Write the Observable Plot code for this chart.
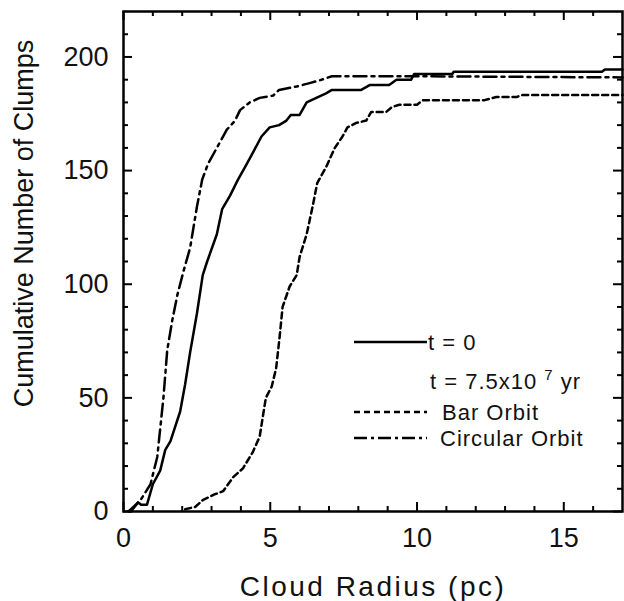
<!DOCTYPE html>
<html><head><meta charset="utf-8">
<script src="https://cdn.jsdelivr.net/npm/d3@7"></script>
<script src="https://cdn.jsdelivr.net/npm/@observablehq/plot@0.6"></script>
<style>
body{margin:0;background:#fff;}
#wrap{position:relative;width:624px;height:601px;}
#wrap svg{position:absolute;left:0;top:0;}
</style></head><body><div id="wrap"></div>
<script>
// t = 0 (solid)
const t0X = [0.25,0.5,0.6,0.8,1.0,1.25,1.42,1.6,1.93,2.1,2.27,2.5,2.7,2.85,3.18,3.36,3.63,3.9,4.14,4.4,4.7,4.98,5.3,5.55,5.7,6.0,6.24,6.57,6.9,7.1,8.1,8.4,9.05,9.3,9.8,9.9,11.2,11.25,16.3,16.4,17];
const t0Y = [0,4,3,3,12,18,27,31,44,56,70,87,104,110,122,133,139,146,151.5,157.7,165,169,170,172,174.5,174.5,180,182,184,185.5,185.5,187.7,187.7,190,190,192.5,192.5,193.5,193.5,194.5,194.5];
// t = 7.5e7 yr, bar orbit (dotted)
const barX = [2.1,2.44,2.7,3.1,3.4,3.73,4.07,4.4,4.64,4.75,4.85,5.05,5.2,5.32,5.42,5.66,5.9,6.0,6.24,6.44,6.6,6.9,7.2,7.46,7.63,7.93,8.27,8.44,8.95,9.15,9.4,10.0,10.2,12.3,12.7,13.4,13.6,17];
const barY = [1,2,5,7.5,9,15,19,26,33,42,50,55,63,77,90,99,104,112,122,134,144.5,151.5,160,165,169,171,172,175.8,175.8,178,179,179,181,181,182.4,182.4,183.3,183.3];
// t = 7.5e7 yr, circular orbit (dash-dot)
const circX = [0.17,0.58,0.92,1.15,1.36,1.49,1.66,1.83,2.05,2.27,2.5,2.68,2.88,3.18,3.52,3.8,3.97,4.3,4.64,5.1,5.3,5.9,6.34,6.75,7.1,10.0,17];
const circY = [0,5,12,24,50,71,84,95,106,116,134,146,153,160,168,172,176.6,180,182,183,185.5,187,188.5,190,191.5,191.5,191];

const xMajor = [0,5,10,15];
const xMinor = [1,2,3,4,6,7,8,9,11,12,13,14,16];
const yMajor = [0,50,100,150,200];
const yMinor = [10,20,30,40,60,70,80,90,110,120,130,140,160,170,180,190,210];
const xTitle = "Cloud Radius (pc)";
const yTitle = "Cumulative Number of Clumps";
const legendLabels = ["t = 0", "Bar Orbit", "Circular Orbit"];

const W = 624, H = 601, mL = 123, mR = 2, mT = 11, mB = 90;
const pw = W - mL - mR, ph = H - mT - mB;
const font = "'Liberation Sans', Arial, Helvetica, sans-serif";
const toRows = (xs, ys) => xs.map((x, i) => ({x, y: ys[i]}));

const majL = 9, minL = 5;
const chart = Plot.plot({
  width: W, height: H,
  marginLeft: mL, marginRight: mR, marginTop: mT, marginBottom: mB,
  x: {domain: [0, 17]},
  y: {domain: [0, 220]},
  style: {fontFamily: font, color: "#111", background: "#fff"},
  marks: [
    Plot.axisX(xMajor, {tickSize: 0, tickPadding: 16, fontSize: 27, label: null}),
    Plot.axisY(yMajor, {tickSize: 0, tickPadding: 15, fontSize: 27, label: null}),
    // inward ticks on all four sides
    Plot.tickX(xMajor, {x: d => d, insetTop: ph - majL, stroke: "#000", strokeWidth: 2}),
    Plot.tickX(xMinor, {x: d => d, insetTop: ph - minL, stroke: "#000", strokeWidth: 2}),
    Plot.tickX(xMajor, {x: d => d, insetBottom: ph - majL, stroke: "#000", strokeWidth: 2}),
    Plot.tickX(xMinor, {x: d => d, insetBottom: ph - minL, stroke: "#000", strokeWidth: 2}),
    Plot.tickY(yMajor, {y: d => d, insetRight: pw - majL, stroke: "#000", strokeWidth: 2}),
    Plot.tickY(yMinor, {y: d => d, insetRight: pw - minL, stroke: "#000", strokeWidth: 2}),
    Plot.tickY(yMajor, {y: d => d, insetLeft: pw - majL, stroke: "#000", strokeWidth: 2}),
    Plot.tickY(yMinor, {y: d => d, insetLeft: pw - minL, stroke: "#000", strokeWidth: 2}),
    Plot.line(toRows(t0X, t0Y), {x: "x", y: "y", stroke: "#000", strokeWidth: 2.5}),
    Plot.line(toRows(barX, barY), {x: "x", y: "y", stroke: "#000", strokeWidth: 2.5, strokeDasharray: "6,4"}),
    Plot.line(toRows(circX, circY), {x: "x", y: "y", stroke: "#000", strokeWidth: 2.5, strokeDasharray: "13,5,3,5"}),
    Plot.frame({stroke: "#000", strokeWidth: 2.5}),
    Plot.text([xTitle], {frameAnchor: "bottom", textAnchor: "middle", lineAnchor: "middle", dy: 76, fontSize: 28, fill: "#111"}),
    Plot.text([yTitle], {frameAnchor: "left", textAnchor: "middle", lineAnchor: "middle", rotate: -90, dx: -99, dy: -38, fontSize: 27, fill: "#111"})
  ]
});
const wrap = document.getElementById("wrap");
wrap.appendChild(chart);
chart.querySelectorAll("text").forEach(t => {
  if (t.textContent === xTitle) t.setAttribute("letter-spacing", "2.5");
});

// in-plot legend overlay
const lg = d3.select(wrap).append("svg").attr("width", W).attr("height", H)
  .style("pointer-events", "none").attr("font-family", font).attr("font-size", 22)
  .attr("fill", "#111").attr("letter-spacing", 1);
const item = (y, dash, label, tx) => {
  lg.append("line").attr("x1", 354).attr("x2", 427).attr("y1", y).attr("y2", y)
    .attr("stroke", "#000").attr("stroke-width", 2.5).attr("stroke-dasharray", dash);
  lg.append("text").attr("x", tx).attr("y", y).attr("dy", "0.35em").text(label);
};
item(342, null, legendLabels[0], 428);
const tt = lg.append("text").attr("x", 430).attr("y", 381).attr("dy", "0.35em");
tt.append("tspan").text("t = 7.5x10 ");
tt.append("tspan").attr("dy", -9).attr("font-size", 15).text("7");
tt.append("tspan").attr("dy", 9).text(" yr");
item(412, "6,4", legendLabels[1], 442);
item(438, "13,4,3,4", legendLabels[2], 440);
</script></body></html>
